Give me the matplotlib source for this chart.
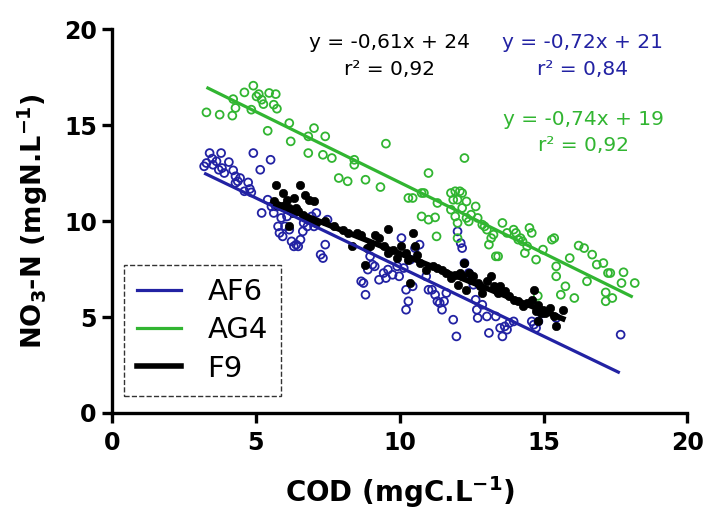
import numpy as np
import matplotlib
matplotlib.use("Agg")
import matplotlib.pyplot as plt
from matplotlib.lines import Line2D

plt.rcParams['font.family'] = ['DejaVu Sans']
plt.rcParams['mathtext.fontset'] = 'custom'
plt.rcParams['mathtext.rm'] = 'DejaVu Sans:bold'
plt.rcParams['mathtext.default'] = 'rm'

# ---- data ----
green_x = [3.28, 3.74, 4.21, 4.18, 4.29, 4.60, 4.84, 4.91, 5.02, 5.10, 5.20, 5.26, 5.46, 5.62, 5.69, 5.73,
           5.41, 6.16, 6.21, 6.82, 6.82, 7.02, 7.33, 7.41, 7.64, 7.88, 8.19, 8.42, 8.42, 8.81, 9.33, 9.52,
           10.30, 10.45, 10.76, 10.84, 11.00, 10.76, 11.00, 11.23, 11.28, 11.31, 11.78, 11.86, 11.78, 11.93,
           12.01, 12.09, 12.17, 12.25, 12.32, 11.93, 12.01, 12.01, 12.17, 12.32, 12.40, 12.48, 12.64, 12.71,
           12.87, 12.95, 13.03, 13.10, 13.18, 13.26, 13.34, 13.42, 13.57, 13.73, 13.96, 14.04, 14.12, 14.20,
           14.27, 14.35, 14.43, 14.51, 14.59, 14.74, 14.98, 15.29, 15.37, 15.44, 15.44, 15.60, 15.76, 15.91,
           16.07, 16.22, 16.41, 16.51, 16.69, 16.85, 17.08, 17.16, 17.16, 17.24, 17.32, 17.39, 17.71, 17.78,
           18.17, 14.80]
green_y = [15.66, 15.54, 16.35, 15.49, 15.89, 16.70, 15.80, 17.05, 16.49, 16.61, 16.32, 16.09, 16.67, 16.06,
           16.61, 15.85, 14.70, 15.10, 14.15, 14.41, 13.54, 14.84, 13.45, 14.41, 13.28, 12.24, 12.07, 13.19,
           12.93, 12.15, 11.77, 14.03, 11.20, 11.20, 11.46, 11.46, 12.50, 10.24, 10.07, 10.19, 9.20, 10.94,
           11.46, 11.11, 10.59, 11.55, 11.11, 11.55, 11.46, 13.28, 11.02, 10.24, 9.90, 9.11, 10.68, 10.16,
           9.98, 10.33, 10.76, 10.16, 9.81, 9.72, 9.55, 8.77, 9.11, 9.29, 8.16, 8.16, 9.90, 9.38, 9.55, 9.38,
           9.03, 9.11, 8.94, 8.33, 8.68, 9.64, 9.38, 7.99, 8.51, 9.03, 9.11, 7.64, 7.12, 6.16, 6.60, 8.07,
           5.99, 8.72, 8.59, 6.86, 8.25, 7.73, 7.81, 6.28, 5.82, 7.29, 7.29, 5.99, 6.77, 7.33, 6.77, 6.10]

blue_x = [3.20, 3.28, 3.39, 3.48, 3.51, 3.63, 3.71, 3.79, 3.82, 3.90, 4.06, 4.21, 4.29, 4.29, 4.37, 4.45,
          4.60, 4.73, 4.79, 4.84, 4.91, 5.15, 5.20, 5.41, 5.51, 5.54, 5.62, 5.69, 5.77, 5.82, 5.88, 5.93,
          6.01, 6.08, 6.16, 6.24, 6.32, 6.40, 6.47, 6.55, 6.63, 6.66, 6.79, 6.94, 7.02, 7.10, 7.25, 7.33,
          7.41, 7.49, 8.66, 8.74, 8.81, 8.89, 8.97, 9.05, 9.13, 9.28, 9.44, 9.52, 9.59, 9.75, 9.91, 9.98,
          10.06, 10.14, 10.22, 10.22, 10.30, 10.37, 10.45, 10.53, 10.69, 10.92, 11.00, 11.12, 11.23, 11.31,
          11.39, 11.47, 11.54, 11.62, 11.86, 11.97, 12.01, 12.12, 12.17, 12.25, 12.40, 12.56, 12.64, 12.68,
          12.71, 12.87, 13.03, 13.10, 13.34, 13.49, 13.57, 13.65, 13.73, 13.81, 13.96, 14.59, 14.66, 14.74,
          14.82, 14.98, 15.44, 17.68]
blue_y = [12.85, 13.02, 13.54, 13.25, 12.93, 13.11, 12.67, 13.54, 12.76, 12.50, 13.07, 12.64, 12.33, 11.98,
          12.07, 12.24, 11.55, 12.01, 11.67, 11.49, 13.54, 12.67, 10.42, 11.11, 13.19, 10.76, 10.42, 10.76,
          9.72, 9.38, 10.16, 9.20, 9.72, 10.24, 9.55, 8.94, 8.68, 8.77, 8.68, 9.03, 9.46, 9.90, 9.72, 10.24,
          9.72, 10.42, 8.25, 8.07, 8.77, 10.07, 6.86, 6.77, 6.16, 7.47, 8.16, 7.73, 7.64, 6.94, 7.29, 7.03,
          7.47, 7.20, 7.64, 7.12, 9.11, 7.55, 6.42, 5.38, 5.82, 7.99, 6.60, 8.59, 8.77, 7.12, 6.42, 6.42,
          6.16, 5.82, 5.73, 5.38, 5.82, 6.25, 4.86, 3.99, 9.46, 8.85, 8.59, 7.81, 7.29, 6.68, 5.90, 5.38,
          4.95, 5.64, 5.03, 4.17, 5.03, 4.43, 3.99, 4.51, 4.34, 4.69, 4.77, 4.77, 4.60, 4.43, 4.77, 5.21,
          4.95, 4.08]

black_x = [5.69, 5.93, 6.08, 6.32, 6.55, 6.71, 6.86, 7.02, 5.62, 5.73, 5.85, 6.01, 6.16, 6.29, 6.40, 6.47,
           6.63, 6.16, 6.79, 6.94, 7.10, 7.41, 7.72, 8.03, 8.19, 8.35, 8.50, 8.66, 8.78, 8.85, 8.97, 9.13,
           9.28, 9.44, 9.59, 9.59, 9.75, 9.91, 10.06, 10.22, 10.30, 10.37, 10.45, 10.53, 10.61, 10.69, 10.92,
           11.15, 11.31, 11.47, 11.62, 11.78, 11.93, 12.01, 12.09, 12.17, 12.25, 12.32, 12.40, 12.48, 12.56,
           12.71, 12.79, 12.87, 13.03, 13.18, 13.26, 13.34, 13.42, 13.49, 13.65, 13.81, 13.96, 14.12, 14.27,
           14.43, 14.59, 14.66, 14.74, 14.82, 14.90, 14.98, 15.05, 15.21, 15.37, 15.44, 15.68, 14.82]
black_y = [11.89, 11.46, 11.11, 11.20, 11.89, 11.37, 11.11, 11.02, 11.02, 10.85, 10.76, 10.85, 10.68, 10.42,
           10.68, 10.50, 10.33, 9.72, 10.16, 10.07, 9.90, 9.98, 9.72, 9.55, 9.38, 8.68, 9.38, 9.29, 7.73,
           8.59, 8.68, 9.29, 9.11, 8.68, 9.58, 8.33, 8.51, 8.07, 8.68, 8.33, 7.99, 6.77, 9.38, 8.68, 8.25,
           7.81, 7.47, 7.64, 7.55, 7.47, 7.29, 7.03, 7.20, 6.68, 7.29, 7.12, 7.81, 6.42, 7.29, 6.94, 7.12,
           6.77, 6.60, 6.25, 6.86, 7.12, 6.60, 6.42, 6.25, 6.60, 6.34, 6.08, 5.90, 5.82, 5.56, 5.73, 5.90,
           6.42, 5.30, 5.64, 5.21, 5.38, 5.21, 5.47, 5.03, 4.51, 5.38, 4.77]

# regression lines: slope, intercept, x range (as drawn in the reference)
series_names = ['AF6', 'AG4', 'F9']
fit_slope = [-0.72, -0.737, -0.60]
fit_intercept = [14.80, 19.38, 14.31]
fit_xmin = [3.20, 3.28, 5.62]
fit_xmax = [17.65, 18.10, 15.76]
eq_labels = ['y = -0,72x + 21\nr\u00b2 = 0,84', 'y = -0,74x + 19\nr\u00b2 = 0,92', 'y = -0,61x + 24\nr\u00b2 = 0,92']

BLUE = '#2222a3'
GREEN = '#31b531'
BLACK = '#000000'
colors = [BLUE, GREEN, BLACK]
lws = [2.3, 2.3, 4.0]

fig = plt.figure(figsize=(7.05, 5.14), dpi=100)
ax = fig.add_axes([0.159, 0.1965, 0.816, 0.747])

ax.scatter(blue_x, blue_y, s=32, facecolors='none', edgecolors=BLUE, linewidths=1.3, zorder=2)
ax.scatter(green_x, green_y, s=32, facecolors='none', edgecolors=GREEN, linewidths=1.3, zorder=2)
ax.scatter(black_x, black_y, s=36, facecolors=BLACK, edgecolors=BLACK, linewidths=0.5, zorder=3)

for i in range(3):
    xs = np.array([fit_xmin[i], fit_xmax[i]])
    ax.plot(xs, fit_slope[i] * xs + fit_intercept[i], color=colors[i], lw=lws[i],
            solid_capstyle='butt', zorder=4)

ax.set_xlim(0, 20)
ax.set_ylim(0, 20)
ax.set_xticks([0, 5, 10, 15, 20])
ax.set_yticks([0, 5, 10, 15, 20])
for s in ['top', 'right']:
    ax.spines[s].set_visible(False)
for s in ['left', 'bottom']:
    ax.spines[s].set_linewidth(2.4)
ax.tick_params(width=2.4, length=7, labelsize=17, direction='out')
ax.tick_params(axis='x', pad=6)
ax.tick_params(axis='y', pad=4)
for lab in ax.get_xticklabels() + ax.get_yticklabels():
    lab.set_fontweight('bold')

ax.set_xlabel('COD (mgC.L$^{-1}$)', fontsize=20, fontweight='bold', labelpad=14)
ax.set_ylabel('NO$_3$-N (mgN.L$^{-1}$)', fontsize=19.5, fontweight='bold', labelpad=10)

# equation annotations
ax.text(9.65, 18.6, eq_labels[2], color=BLACK, fontsize=14.5, ha='center', va='center', linespacing=1.5)
ax.text(16.34, 18.6, eq_labels[0], color=BLUE, fontsize=14.5, ha='center', va='center', linespacing=1.5)
ax.text(16.38, 14.6, eq_labels[1], color=GREEN, fontsize=14.5, ha='center', va='center', linespacing=1.5)

handles = [Line2D([0], [0], color=colors[i], lw=lws[i]) for i in range(3)]
leg = ax.legend(handles, series_names, loc='lower left', bbox_to_anchor=(0.021, 0.045),
                borderaxespad=0, fontsize=21, frameon=True, fancybox=False, handlelength=1.5,
                handletextpad=0.9, labelspacing=0.35, borderpad=0.45)
fr = leg.get_frame()
fr.set_edgecolor('black')
fr.set_linestyle('--')
fr.set_linewidth(1.0)

fig.savefig('out.png', dpi=100)
